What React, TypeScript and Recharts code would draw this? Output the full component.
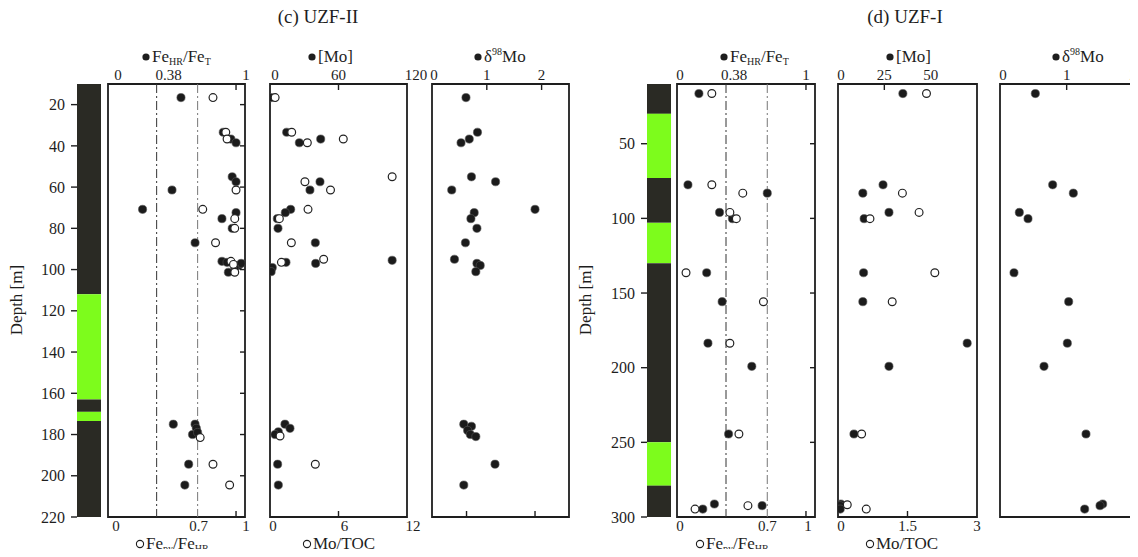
import React from 'react';
import { ScatterChart, Scatter, XAxis, YAxis, ReferenceLine, ReferenceArea } from 'recharts';

// ---------- data (depth d in m, value v) ----------
type Pt = { d: number; v: number };
const pts = (rows: number[][]): Pt[] => rows.map(([d, v]) => ({ d, v }));

// (c) UZF-II
const uzf2DepthTicks = [20, 40, 60, 80, 100, 120, 140, 160, 180, 200, 220];
const uzf2Beds = [
  { top: 10, base: 112, rock: 'dark' },
  { top: 112, base: 163, rock: 'green' },
  { top: 163, base: 169, rock: 'dark' },
  { top: 169, base: 173.5, rock: 'green' },
  { top: 173.5, base: 220, rock: 'dark' },
];
const uzf2FeHR = pts([
  [16.6, 0.57], [33.4, 0.9], [36.7, 0.96], [38.5, 1.0], [55, 0.97], [57.4, 1.0], [61.4, 0.5],
  [70.8, 0.27], [72.4, 1.0], [75.3, 0.89], [80, 0.97], [87, 0.68], [96, 0.89], [96.5, 0.93],
  [98, 1.02], [97, 1.04], [101.3, 0.94], [99, 0.99], [175, 0.51], [175, 0.68], [177, 0.69],
  [180, 0.66], [179, 0.7], [194.4, 0.63], [204.5, 0.6],
]);
const uzf2FePy = pts([
  [16.6, 0.82], [33.4, 0.92], [36.7, 0.93], [61.4, 1.0], [70.8, 0.74], [75.3, 0.99], [80, 0.99],
  [87, 0.84], [96, 0.96], [97.5, 0.98], [101.3, 0.99], [181.5, 0.72], [194.4, 0.82], [204.5, 0.95],
]);
const uzf2Mo = pts([
  [16.6, 1], [33.4, 14.6], [36.7, 44.4], [38.5, 25.7], [57.4, 43.8], [61.4, 35], [70.8, 18.1],
  [72.4, 13.4], [75.3, 6.4], [80, 7], [87, 39.7], [95.5, 107], [97, 40], [96.5, 14], [99, 2],
  [101, 1], [175, 13.1], [177, 17.5], [178.7, 7.3], [180, 4.4], [194.4, 6.7], [204.5, 7.3],
]);
const uzf2MoToc = pts([
  [16.6, 0.45], [33.4, 1.9], [36.7, 6.42], [38.5, 3.27], [55, 10.7], [57.4, 3.06], [61.4, 5.3],
  [70.8, 3.33], [75.3, 0.82], [87, 1.87], [95, 4.7], [96.5, 1.0], [180.7, 0.88], [194.4, 3.97],
]);
const uzf2D98 = pts([
  [16.6, 0.62], [33.4, 0.83], [36.7, 0.68], [38.5, 0.53], [55, 0.72], [57.4, 1.16], [61.4, 0.36],
  [70.8, 1.88], [72.4, 0.77], [75.3, 0.71], [80, 0.82], [87, 0.61], [95, 0.41], [97, 0.82],
  [98, 0.88], [101, 0.8], [175, 0.58], [176, 0.72], [178, 0.65], [180, 0.7], [181, 0.8],
  [194.4, 1.15], [204.5, 0.58],
]);

// (d) UZF-I
const uzf1DepthTicks = [50, 100, 150, 200, 250, 300];
const uzf1Beds = [
  { top: 10, base: 30, rock: 'dark' },
  { top: 30, base: 73, rock: 'green' },
  { top: 73, base: 103, rock: 'dark' },
  { top: 103, base: 130, rock: 'green' },
  { top: 130, base: 250, rock: 'dark' },
  { top: 250, base: 279, rock: 'green' },
  { top: 279, base: 300, rock: 'dark' },
];
const uzf1FeHR = pts([
  [16.4, 0.17], [77.5, 0.085], [83.1, 0.7], [96, 0.33], [100.2, 0.43], [136.4, 0.23], [155.8, 0.35],
  [183.6, 0.24], [199.1, 0.58], [244.4, 0.4], [291.3, 0.29], [292.4, 0.66], [294.7, 0.2],
]);
const uzf1FePy = pts([
  [16.4, 0.27], [77.5, 0.27], [83.1, 0.51], [96, 0.41], [100.2, 0.46], [136.4, 0.07], [155.8, 0.67],
  [183.6, 0.41], [244.4, 0.48], [292.4, 0.55], [294.7, 0.14],
]);
const uzf1Mo = pts([
  [16.4, 35], [77.5, 24.3], [83.1, 13.4], [96, 27.5], [100.2, 14.1], [136.4, 13.8], [155.8, 13.4],
  [183.6, 69.7], [199.1, 27.5], [244.4, 8.6], [291.3, 1.5], [292.4, 1.0], [294.7, 1.2],
]);
const uzf1MoToc = pts([
  [16.4, 1.91], [83.1, 1.39], [96, 1.75], [100.2, 0.69], [136.4, 2.09], [155.8, 1.17],
  [244.4, 0.51], [291.8, 0.2], [294.7, 0.61],
]);
const uzf1D98 = pts([
  [16.4, 0.53], [77.5, 0.79], [83.1, 1.1], [96, 0.29], [100.2, 0.42], [136.4, 0.21], [155.8, 1.03],
  [183.6, 1.01], [199.1, 0.66], [244.4, 1.29], [291.3, 1.54], [292.4, 1.5], [294.7, 1.27],
]);

// tick labels
const feTopTicks = [0, 0.38, 1];
const feBotTicks = [0, 0.7, 1];
const feThresholds = [0.38, 0.7];
const mo2TopTicks = [0, 60, 120];
const mo2BotTicks = [0, 6, 12];
const mo1TopTicks = [0, 25, 50];
const mo1BotTicks = [0, 1.5, 3];
const d98Ticks = [0, 1, 2];

// ---------- styling ----------
const FONT = '"Liberation Serif", "DejaVu Serif", serif';
const INK = '#1e1e1e';
const ROCK: Record<string, string> = { dark: '#2a2a24', green: '#7dfc1c' };
const BOX_TOP = 84;
const BOX_H = 433;
const COL_W = 24;
const TOP_H = 30;
const BOT_H = 40;

type TickSpec = { v: number; label?: boolean; dx?: number; mark?: boolean };
const spec = (vals: number[], dx: number[] = [], marks: number[] = []): TickSpec[] =>
  vals.map((v, i) => ({ v, label: true, dx: dx[i] ?? 0, mark: marks.includes(v) }));

const axisTick = (specs: TickSpec[], side: 'top' | 'bottom') => (p: any) => {
  const s = specs.find((t) => Math.abs(t.v - p.payload.value) < 1e-9);
  if (!s) return <g />;
  const inward = side === 'top' ? 1 : -1;
  return (
    <g>
      {s.mark && <line x1={p.x} x2={p.x} y1={p.y} y2={p.y + inward * 6} stroke={INK} strokeWidth={1.4} />}
      {s.label && (
        <text x={p.x + (s.dx ?? 0)} y={side === 'top' ? p.y - 4 : p.y + 14} textAnchor="middle"
          fontFamily={FONT} fontSize={15} fill={INK}>
          {String(s.v)}
        </text>
      )}
    </g>
  );
};

const dot = (p: any) => <circle cx={p.cx} cy={p.cy} r={4.1} fill="#1b1b1b" stroke="#555" strokeWidth={0.6} />;
const ring = (p: any) => <circle cx={p.cx} cy={p.cy} r={3.9} fill="#fff" stroke="#222" strokeWidth={1.2} />;

interface PanelProps {
  left: number; width: number;
  depth: [number, number]; depthTicks: number[];
  topDomain: [number, number]; botDomain: [number, number];
  top: TickSpec[]; bot: TickSpec[];
  filled: Pt[]; hollow?: Pt[];
  guides?: number[]; sideTicks?: boolean;
}

function Panel(props: PanelProps) {
  const { left, width, depth, depthTicks, topDomain, botDomain, top, bot, filled, hollow, guides, sideTicks } = props;
  const side = 24;
  const m = { top: 0, right: sideTicks ? 0 : side, bottom: 0, left: side };
  return (
    <div style={{ position: 'absolute', left: left - side, top: BOX_TOP - TOP_H }}>
      <ScatterChart width={width + 2 * side} height={BOX_H + TOP_H + BOT_H} margin={m}>
        <XAxis xAxisId="top" orientation="top" type="number" dataKey="v" domain={topDomain} allowDataOverflow
          ticks={top.map((t) => t.v)} interval={0} height={TOP_H} tickSize={0} tickMargin={0}
          tickLine={false} axisLine={false} tick={axisTick(top, 'top')} />
        <XAxis xAxisId="bot" orientation="bottom" type="number" dataKey="v" domain={botDomain} allowDataOverflow
          ticks={bot.length ? bot.map((t) => t.v) : [botDomain[0]]} interval={0} height={BOT_H} tickSize={0}
          tickMargin={0} tickLine={false} axisLine={false} tick={axisTick(bot, 'bottom')} />
        <YAxis yAxisId="d" type="number" dataKey="d" domain={depth} reversed allowDataOverflow hide />
        {sideTicks && (
          <YAxis yAxisId="side" orientation="right" type="number" domain={depth} reversed allowDataOverflow width={side}
            ticks={depthTicks} interval={0} tickSize={0} tickMargin={0} tickLine={false} axisLine={false}
            tick={(p: any) => <line x1={p.x} x2={p.x - 5} y1={p.y} y2={p.y} stroke={INK} strokeWidth={1.4} />} />
        )}
        <ReferenceArea xAxisId="top" yAxisId="d" x1={topDomain[0]} x2={topDomain[1]} y1={depth[0]} y2={depth[1]}
          fill="none" stroke={INK} strokeWidth={1.8} />
        {(guides ?? []).map((g, i) => (
          <ReferenceLine key={g} xAxisId="top" yAxisId="d" x={g} stroke={i === 0 ? '#333' : '#777'}
            strokeWidth={1} strokeDasharray="9 3 2 3" />
        ))}
        <Scatter data={filled} xAxisId="top" yAxisId="d" shape={dot} isAnimationActive={false} />
        {hollow && <Scatter data={hollow} xAxisId="bot" yAxisId="d" shape={ring} isAnimationActive={false} />}
      </ScatterChart>
    </div>
  );
}

function Column({ left, beds, depth, ticks }: { left: number; beds: typeof uzf2Beds; depth: [number, number]; ticks: number[] }) {
  const yW = 70;
  return (
    <div style={{ position: 'absolute', left: left - yW, top: BOX_TOP - 12 }}>
      <ScatterChart width={yW + COL_W} height={BOX_H + 24} margin={{ top: 12, right: 0, bottom: 12, left: 0 }}>
        <XAxis type="number" dataKey="v" domain={[0, 1]} allowDataOverflow hide />
        <YAxis type="number" dataKey="d" domain={depth} reversed allowDataOverflow ticks={ticks} interval={0}
          width={yW} tickSize={6} tickMargin={6} axisLine={false}
          tickLine={{ stroke: INK, strokeWidth: 1.4 }} tick={{ fontFamily: FONT, fontSize: 16, fill: INK }} />
        {beds.map((b, i) => (
          <ReferenceArea key={i} x1={0} x2={1} y1={b.top} y2={b.base} fill={ROCK[b.rock]} fillOpacity={1}
            stroke="none" ifOverflow="visible" />
        ))}
        <Scatter data={[{ d: depth[0], v: 0 }]} shape={() => <g />} isAnimationActive={false} />
      </ScatterChart>
    </div>
  );
}

function FeLabel({ x, y, num, den }: { x: number; y: number; num: string; den: string }) {
  return (
    <text x={x} y={y} fontFamily={FONT} fontSize={17} fill={INK}>
      Fe<tspan fontSize={10} dy={3}>{num}</tspan>
      <tspan dy={-3}>/Fe</tspan>
      <tspan fontSize={10} dy={3}>{den}</tspan>
    </text>
  );
}

type LabelPos = { title: string; tx: number; fe: number; mo: number; dm: number; py: number; toc: number; depthX: number };

function Labels({ p }: { p: LabelPos }) {
  const t = { fontFamily: FONT, fill: INK };
  const ly = 62;
  const by = 549;
  return (
    <g>
      <text x={p.tx} y={23} textAnchor="middle" fontSize={19} {...t}>{p.title}</text>
      <circle cx={p.fe - 6} cy={ly - 5} r={3.6} fill={INK} />
      <FeLabel x={p.fe} y={ly} num="HR" den="T" />
      <circle cx={p.mo - 6} cy={ly - 5} r={3.6} fill={INK} />
      <text x={p.mo} y={ly} fontSize={17} {...t}>[Mo]</text>
      <circle cx={p.dm - 6} cy={ly - 5} r={3.6} fill={INK} />
      <text x={p.dm} y={ly} fontSize={17} {...t}>
        δ<tspan fontSize={10} dy={-7}>98</tspan><tspan dy={7}>Mo</tspan>
      </text>
      <circle cx={p.py - 6} cy={by - 5} r={3.6} fill="#fff" stroke={INK} strokeWidth={1.1} />
      <FeLabel x={p.py} y={by} num="py" den="HR" />
      <circle cx={p.toc - 6} cy={by - 5} r={3.6} fill="#fff" stroke={INK} strokeWidth={1.1} />
      <text x={p.toc} y={by} fontSize={17} {...t}>Mo/TOC</text>
      <text transform={`translate(${p.depthX},300) rotate(-90)`} textAnchor="middle" fontSize={17} {...t}>Depth [m]</text>
    </g>
  );
}

export default function App() {
  const d2: [number, number] = [10, 220];
  const d1: [number, number] = [10, 300];
  return (
    <div style={{ position: 'relative', width: 1138, height: 557, margin: -8, overflow: 'hidden', background: '#fff', fontFamily: FONT }}>
      <Column left={77} beds={uzf2Beds} depth={d2} ticks={uzf2DepthTicks} />
      <Panel left={108} width={137} depth={d2} depthTicks={uzf2DepthTicks} topDomain={[0, 1.07]} botDomain={[0, 1.07]}
        top={spec(feTopTicks, [10, 12, 10], [1])} bot={spec(feBotTicks, [8, 1, 10], [1])}
        filled={uzf2FeHR} hollow={uzf2FePy} guides={feThresholds} sideTicks />
      <Panel left={270} width={137} depth={d2} depthTicks={uzf2DepthTicks} topDomain={[0, 120]} botDomain={[0, 12]}
        top={spec(mo2TopTicks, [5, 0, 9], [60])} bot={spec(mo2BotTicks, [3, 6, 6], [6])}
        filled={uzf2Mo} hollow={uzf2MoToc} />
      <Panel left={432} width={137} depth={d2} depthTicks={uzf2DepthTicks} topDomain={[0, 2.5]} botDomain={[0, 2.5]}
        top={spec(d98Ticks, [2, 0, 0], [1, 2])} bot={[{ v: 0.63, mark: true }, { v: 1.88, mark: true }]}
        filled={uzf2D98} />

      <Column left={647} beds={uzf1Beds} depth={d1} ticks={uzf1DepthTicks} />
      <Panel left={677} width={138} depth={d1} depthTicks={uzf1DepthTicks} topDomain={[0, 1.07]} botDomain={[0, 1.07]}
        top={spec(feTopTicks, [3, 8, 0], [1])} bot={spec(feBotTicks, [3, 0, 2], [1])}
        filled={uzf1FeHR} hollow={uzf1FePy} guides={feThresholds} sideTicks />
      <Panel left={838} width={139} depth={d1} depthTicks={uzf1DepthTicks} topDomain={[0, 75]} botDomain={[0, 3]}
        top={spec(mo1TopTicks, [3, 0, 0], [25])} bot={spec(mo1BotTicks, [3, 0, 0], [1.5])}
        filled={uzf1Mo} hollow={uzf1MoToc} />
      <Panel left={1000} width={140} depth={d1} depthTicks={uzf1DepthTicks} topDomain={[0, 2.1]} botDomain={[0, 2.1]}
        top={spec(d98Ticks, [3, 0, 0], [1])} bot={[]} filled={uzf1D98} />

      <svg width={1138} height={557} style={{ position: 'absolute', left: 0, top: 0, pointerEvents: 'none' }}>
        <Labels p={{ title: '(c) UZF-II', tx: 318, fe: 152, mo: 318, dm: 484, py: 146, toc: 313, depthX: 22 }} />
        <Labels p={{ title: '(d) UZF-I', tx: 905, fe: 730, mo: 896, dm: 1062, py: 706, toc: 876, depthX: 591 }} />
      </svg>
    </div>
  );
}
